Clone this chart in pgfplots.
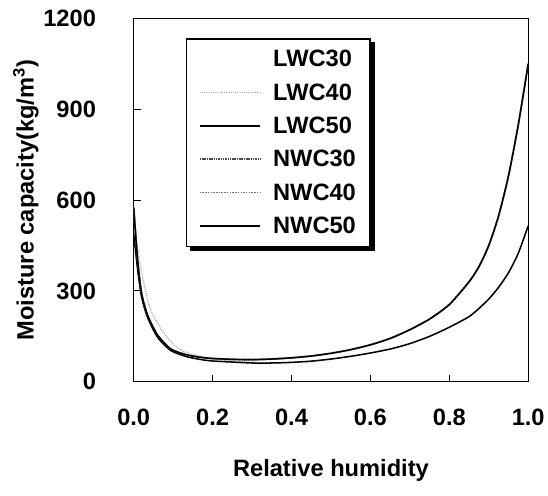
\documentclass[border=0pt]{standalone}
\usepackage{pgfplots}
\pgfplotsset{compat=1.18}
\usepackage{fontspec}
\setmainfont{Liberation Sans}
\usetikzlibrary{backgrounds}
\begin{document}
\begin{tikzpicture}
\begin{axis}[
  scale only axis,
  width=392pt, height=361pt,
  xmin=0, xmax=1, ymin=0, ymax=1200,
  xtick={0,0.2,0.4,0.6,0.8,1.0},
  ytick={0,300,600,900,1200},
  xtick pos=bottom, ytick pos=left,
  tick align=inside,
  major tick length=7pt,
  axis line style={line width=1.2pt},
  every tick/.style={line width=1pt, black},
  /pgf/number format/assume math mode=true,
  tick label style={font=\bfseries\fontsize{23.5}{28}\selectfont},
  xticklabel style={/pgf/number format/fixed, /pgf/number format/fixed zerofill, /pgf/number format/precision=1},
  yticklabel style={inner ysep=10pt, /pgf/number format/fixed, /pgf/number format/1000 sep={}},
  xticklabel shift=24pt,
  yticklabel shift=34pt,
  xlabel={Relative humidity},
  ylabel={Moisture capacity(kg/m\textsuperscript{3})},
  label style={font=\bfseries\fontsize{23.5}{28}\selectfont},
  xlabel style={inner ysep=14pt, yshift=-15pt},
  ylabel style={inner ysep=13pt, yshift=-12pt},
  legend style={name=leg, at={(rel axis cs:0.133,0.945)}, anchor=north west,
    draw=black, line width=1.2pt, fill=white,
    font=\bfseries\fontsize{23.5}{28}\selectfont,
    row sep=11.3pt, inner xsep=12pt, inner ysep=9pt, cells={anchor=west},
    /tikz/every odd column/.append style={column sep=10pt}},
  legend image code/.code={\draw[#1] (0pt,0pt) -- (60pt,0pt);},
]
% LWC30 (white, invisible)
\addplot[white, line width=1.5pt] coordinates {(0,-10)(1,-10)};
\addlegendentry{LWC30}
% LWC40
\addplot[gray!70, line width=1.3pt, dash pattern=on 1pt off 1.2pt, smooth, tension=0.4] coordinates {
(0,560)(0.01,440)(0.022,349)(0.043,237)(0.077,160)(0.103,121)(0.12,105)
(0.15,90)(0.2,76)(0.25,68)(0.3,64)(0.35,62)(0.4,64)(0.45,68)(0.5,75)(0.55,84)
(0.6,95)(0.65,108)(0.7,126)(0.75,150)(0.8,180)(0.85,215)(0.875,242)(0.9,273)
(0.925,312)(0.95,360)(0.975,425)(1.0,515)};
\addlegendentry{LWC40}
% LWC50
\addplot[black, line width=1.5pt, smooth, tension=0.4] coordinates {
(0,490)(0.01,370)(0.02,280)(0.035,213)(0.06,148)(0.094,103)(0.137,82)(0.188,70)
(0.25,65)(0.3,62)(0.35,62)(0.4,64)(0.45,68)(0.5,75)(0.55,84)(0.6,95)(0.65,108)
(0.7,126)(0.75,150)(0.8,180)(0.85,215)(0.875,242)(0.9,273)(0.925,312)(0.95,360)
(0.975,425)(1.0,515)};
\addlegendentry{LWC50}
% NWC30
\addplot[black!70, line width=1.8pt, dash pattern=on 1.5pt off 0.8pt, smooth, tension=0.4] coordinates {
(0,575)(0.01,400)(0.02,292)(0.035,220)(0.06,155)(0.094,108)(0.137,88)(0.188,78)
(0.25,74)(0.3,73)(0.35,75)(0.4,79)(0.45,85)(0.5,94)(0.55,106)(0.6,122)(0.65,143)
(0.7,172)(0.75,207)(0.8,255)(0.85,330)(0.875,380)(0.9,450)(0.925,548)(0.95,680)
(0.975,850)(1.0,1050)};
\addlegendentry{NWC30}
% NWC40
\addplot[black!55, line width=1.4pt, dash pattern=on 1.5pt off 1.2pt, smooth, tension=0.4] coordinates {
(0,575)(0.01,400)(0.02,292)(0.035,220)(0.06,155)(0.094,108)(0.137,88)(0.188,78)
(0.25,74)(0.3,73)(0.35,75)(0.4,79)(0.45,85)(0.5,94)(0.55,106)(0.6,122)(0.65,143)
(0.7,172)(0.75,207)(0.8,255)(0.85,330)(0.875,380)(0.9,450)(0.925,548)(0.95,680)
(0.975,850)(1.0,1050)};
\addlegendentry{NWC40}
% NWC50
\addplot[black, line width=1.5pt, smooth, tension=0.4] coordinates {
(0,575)(0.01,400)(0.02,292)(0.035,220)(0.06,155)(0.094,108)(0.137,88)(0.188,78)
(0.25,74)(0.3,73)(0.35,75)(0.4,79)(0.45,85)(0.5,94)(0.55,106)(0.6,122)(0.65,143)
(0.7,172)(0.75,207)(0.8,255)(0.85,330)(0.875,380)(0.9,450)(0.925,548)(0.95,680)
(0.975,850)(1.0,1050)};
\addlegendentry{NWC50}
\end{axis}
\begin{scope}[on background layer]
\fill[black] ([shift={(4pt,-4pt)}]leg.south west) rectangle ([shift={(4pt,-4pt)}]leg.north east);
\end{scope}
\end{tikzpicture}
\end{document}
